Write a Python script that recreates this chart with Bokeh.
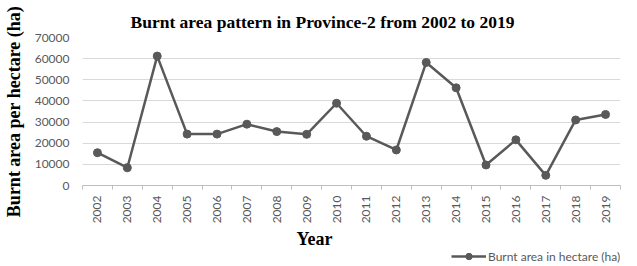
from bokeh.plotting import figure
from bokeh.models import Range1d, FixedTicker, Label, Legend, LegendItem, ColumnDataSource
from bokeh.layouts import column
from bokeh.embed import file_html
from bokeh.resources import INLINE
import math

years = ["2002", "2003", "2004", "2005", "2006", "2007", "2008", "2009", "2010",
         "2011", "2012", "2013", "2014", "2015", "2016", "2017", "2018", "2019"]
burnt_area = [15500, 8400, 61200, 24300, 24300, 29000, 25500, 24200, 38900,
              23300, 16800, 58200, 46200, 9700, 21600, 4800, 31000, 33600]
y_ticks = [0, 10000, 20000, 30000, 40000, 50000, 60000, 70000]

title_text = "Burnt area pattern in Province-2 from 2002 to 2019"
x_title = "Year"
y_title = "Burnt area per hectare (ha)"
series_name = "Burnt area in hectare (ha)"

xs = [i + 0.5 for i in range(len(years))]
src = ColumnDataSource(dict(x=xs, y=burnt_area))

GRAY = "#595959"
SERIF = "Liberation Serif"
SANS = "Lato"
W = 637
FL, FR = 82, 620  # frame left / right in page pixels

# ---- main chart (with title) ----
p = figure(width=W, height=228, output_backend="svg", toolbar_location=None,
           x_range=Range1d(0, len(years)), y_range=Range1d(0, 70000),
           min_border_left=FL, min_border_right=W - FR, min_border_top=37, min_border_bottom=43)
p.title.text = title_text
p.title.align = "left"
p.title.offset = 48
p.title.text_font = SERIF
p.title.text_font_style = "bold"
p.title.text_font_size = "17.5px"
p.title.text_color = "black"
p.title.standoff = 11
p.outline_line_color = None
p.background_fill_color = "white"
p.border_fill_color = "white"

line = p.line("x", "y", source=src, line_color=GRAY, line_width=2.5)
pts = p.scatter("x", "y", source=src, size=8, fill_color=GRAY, line_color=GRAY)

xa = p.xaxis[0]
xa.ticker = FixedTicker(ticks=xs, minor_ticks=list(range(len(years) + 1)))
xa.major_label_overrides = {x: y for x, y in zip(xs, years)}
xa.major_label_orientation = math.pi / 2
xa.major_tick_line_color = None
xa.major_tick_in = 0
xa.major_tick_out = 0
xa.minor_tick_line_color = "#bfbfbf"
xa.minor_tick_in = 0
xa.minor_tick_out = 4
xa.axis_line_color = "#bfbfbf"
xa.major_label_text_font = SANS
xa.major_label_text_font_size = "12px"
xa.major_label_text_color = GRAY
xa.major_label_standoff = 6

ya = p.yaxis[0]
ya.ticker = FixedTicker(ticks=y_ticks)
ya.axis_line_color = None
ya.major_tick_line_color = None
ya.minor_tick_line_color = None
ya.major_tick_in = 0
ya.major_tick_out = 0
ya.major_label_text_font = SANS
ya.major_label_text_font_size = "12px"
ya.major_label_text_color = GRAY
ya.major_label_standoff = 13
ya.axis_label = y_title
ya.axis_label_text_font = SERIF
ya.axis_label_text_font_style = "bold"
ya.axis_label_text_font_size = "18px"
ya.axis_label_text_color = "black"
ya.axis_label_standoff = 8

p.xgrid.grid_line_color = None
p.ygrid.ticker = FixedTicker(ticks=y_ticks)
p.ygrid.grid_line_color = "#d9d9d9"
p.ygrid.grid_line_width = 1

# ---- bottom strip: x-axis title and legend (frame aligned with main chart) ----
BH = 38
bot = figure(width=W, height=BH, output_backend="svg", toolbar_location=None,
             x_axis_type=None, y_axis_type=None,
             x_range=Range1d(FL, FR), y_range=Range1d(0, BH),
             min_border_left=FL, min_border_right=W - FR, min_border_top=0, min_border_bottom=0)
bot.title.visible = False
bot.outline_line_color = None
bot.grid.visible = False
bot.background_fill_color = "white"
bot.border_fill_color = "white"

bot.add_layout(Label(x=314, y=BH - 10, text=x_title, text_font=SERIF, text_font_style="bold",
                     text_font_size="18px", text_align="center", text_baseline="middle",
                     text_color="black"))
# legend renderers share the chart's data; they fall outside this strip's range
lg_line = bot.line("x", "y", source=src, line_color=GRAY, line_width=2.5)
lg_pts = bot.scatter("x", "y", source=src, size=8, fill_color=GRAY, line_color=GRAY)
legend = Legend(items=[LegendItem(label=series_name, renderers=[lg_line, lg_pts])],
                location=(451 - FL, 2), padding=0, margin=0, spacing=0,
                glyph_width=35, glyph_height=16, label_height=16, label_standoff=2,
                label_text_font=SANS, label_text_font_size="12px", label_text_color=GRAY,
                background_fill_alpha=0, border_line_color=None)
bot.add_layout(legend, "center")

layout = column(p, bot, spacing=0)
open("out.html", "w").write(file_html(layout, INLINE))
